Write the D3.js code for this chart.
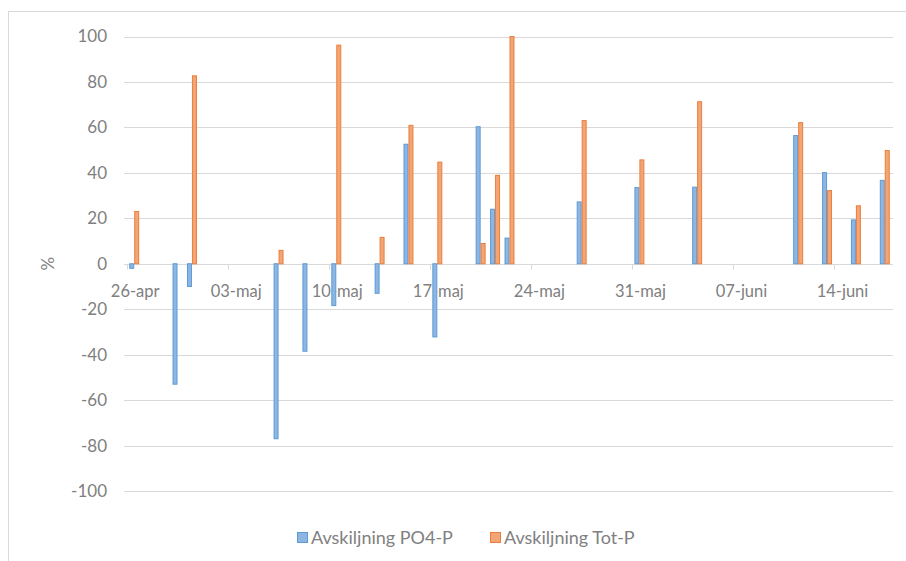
<!DOCTYPE html>
<html>
<head>
<meta charset="utf-8">
<script src="https://cdn.jsdelivr.net/npm/d3@7"></script>
<style>
  html, body { margin: 0; padding: 0; background: #fff; }
  svg { display: block; }
  text { font-family: Lato, "Open Sans", sans-serif; fill: #808080; }
</style>
</head>
<body>
<svg id="chart" width="906" height="561"></svg>
<script>
// ---- Data ----
const startDate = "2020-04-26";
const endDate = "2020-06-17";
const seriesNames = ["Avskiljning PO4-P", "Avskiljning Tot-P"];
const measureDates = ["2020-04-26","2020-04-29","2020-04-30","2020-05-06","2020-05-08","2020-05-10","2020-05-13","2020-05-15","2020-05-17","2020-05-20","2020-05-21","2020-05-22","2020-05-27","2020-05-31","2020-06-04","2020-06-11","2020-06-13","2020-06-15","2020-06-17"];
const po4Values =  [-2, -53, -10, -77, -38.5, -18.4, -13, 52.6, -32.2, 60.3, 24, 11.3, 27.2, 33.5, 33.7, 56.4, 40.1, 19.3, 36.7];
const totValues =  [23, null, 82.7, 5.9, null, 96.2, 11.6, 60.9, 44.7, 8.9, 38.9, 100, 63, 45.7, 71.3, 62.1, 32.2, 25.5, 49.8];
const tickLabelDates = ["2020-04-26","2020-05-03","2020-05-10","2020-05-17","2020-05-24","2020-05-31","2020-06-07","2020-06-14"];
const tickLabels = ["26-apr","03-maj","10-maj","17-maj","24-maj","31-maj","07-juni","14-juni"];
const yTicks = [-100,-80,-60,-40,-20,0,20,40,60,80,100];
const colors = ["#8fb5e2", "#f2a676"];
const strokes = ["#5b9bd5", "#ec7d3a"];

// ---- Layout ----
const svg = d3.select("#chart");
const parse = d3.utcParse("%Y-%m-%d");
const fmtKey = d3.utcFormat("%Y-%m-%d");
const allDays = d3.utcDay.range(parse(startDate), d3.utcDay.offset(parse(endDate), 1)).map(fmtKey);

const plotLeft = 127, plotRight = 892, gridLeft = 124, gridRight = 893;
const x = d3.scaleBand().domain(allDays).range([plotLeft, plotRight]).padding(0);
const xs = d3.scaleBand().domain(seriesNames).range([0, x.bandwidth()]).paddingInner(0).paddingOuter(0.45);
const y = d3.scaleLinear().domain([-100, 100]).range([491, 36.5]);

// chart border
svg.append("rect").attr("x", 8.5).attr("y", 11.5).attr("width", 920).attr("height", 600)
  .attr("fill", "none").attr("stroke", "#d9d9d9").attr("stroke-width", 1);

// gridlines
svg.append("g").selectAll("line").data(yTicks.filter(t => t !== 0)).join("line")
  .attr("x1", gridLeft).attr("x2", gridRight)
  .attr("y1", d => Math.round(y(d)) + 0.5).attr("y2", d => Math.round(y(d)) + 0.5)
  .attr("stroke", "#d9d9d9").attr("stroke-width", 1);

// y labels
svg.append("g").selectAll("text").data(yTicks).join("text")
  .attr("x", 107).attr("y", d => y(d)).attr("dy", "0.35em")
  .attr("text-anchor", "end").attr("font-size", 17).text(d => d);

// y title
svg.append("text").attr("transform", `translate(48,${y(0)}) rotate(-90)`)
  .attr("text-anchor", "middle").attr("dy", "0.35em").attr("font-size", 17).text("%");

// x labels
svg.append("g").selectAll("text").data(tickLabelDates).join("text")
  .attr("x", (d) => x(d) + x.bandwidth() / 2 + 1).attr("y", 291).attr("dy", "0.35em")
  .attr("text-anchor", "middle").attr("font-size", 16.5)
  .text((d, i) => tickLabels[i]);

// zero axis + ticks
const y0 = Math.round(y(0)) + 0.5;
svg.append("line").attr("x1", gridLeft).attr("x2", gridRight).attr("y1", y0).attr("y2", y0)
  .attr("stroke", "#d9d9d9");
svg.append("g").selectAll("line").data(tickLabelDates).join("line")
  .attr("x1", d => Math.round(x(d)) + 0.5).attr("x2", d => Math.round(x(d)) + 0.5)
  .attr("y1", y0).attr("y2", y0 + 5).attr("stroke", "#d9d9d9");

// bars
const seriesData = [po4Values, totValues];
seriesData.forEach((vals, si) => {
  const data = measureDates.map((d, i) => ({ date: d, v: vals[i] })).filter(o => o.v !== null);
  svg.append("g").selectAll("rect").data(data).join("rect")
    .attr("x", d => x(d.date) + xs(seriesNames[si]) + 0.5)
    .attr("width", xs.bandwidth() - 1)
    .attr("y", d => Math.min(y(d.v), y(0)))
    .attr("height", d => Math.abs(y(d.v) - y(0)))
    .attr("fill", colors[si]).attr("stroke", strokes[si]).attr("stroke-width", 1);
});

// legend
const legendItems = [{ name: seriesNames[0], x: 297 }, { name: seriesNames[1], x: 490 }];
const lg = svg.append("g");
legendItems.forEach((it, i) => {
  lg.append("rect").attr("x", it.x + 0.5).attr("y", 532.5).attr("width", 10).attr("height", 10)
    .attr("fill", colors[i]).attr("stroke", strokes[i]);
  lg.append("text").attr("x", it.x + 14).attr("y", 537.5).attr("dy", "0.35em")
    .attr("font-size", 18).text(it.name);
});
</script>
</body>
</html>
